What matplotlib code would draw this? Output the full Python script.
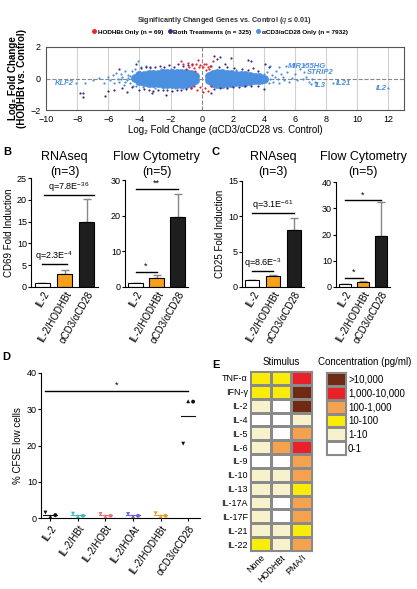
import matplotlib
matplotlib.use('Agg')
import matplotlib.pyplot as plt
from matplotlib.colors import ListedColormap
from matplotlib.lines import Line2D
import numpy as np

plt.rcParams['font.family'] = ['Liberation Sans', 'DejaVu Sans']
plt.rcParams['mathtext.fontset'] = 'custom'
plt.rcParams['mathtext.rm'] = 'Liberation Sans'
plt.rcParams['mathtext.it'] = 'Liberation Sans:italic'
plt.rcParams['mathtext.bf'] = 'Liberation Sans:bold'

# ---------------- data ----------------
# panel A: volcano-like scatter
core_x = [-4.3, -4.0, -4.0, -3.7, -3.7, -3.7, -3.4, -3.4, -3.4, -3.1, -3.1, -3.1,
          -2.8, -2.8, -2.8, -2.5, -2.5, -2.5, -2.2, -2.2, -2.2, -1.9, -1.9, -1.9,
          -1.6, -1.6, -1.6, -1.3, -1.3, -1.3, -1.0, -1.0, -1.0, -0.7, -0.7, -0.7,
          -0.45, -0.45,
          0.45, 0.45, 0.7, 0.7, 0.7, 1.0, 1.0, 1.0, 1.3, 1.3, 1.3, 1.6, 1.6, 1.6,
          1.9, 1.9, 1.9, 2.2, 2.2, 2.2, 2.5, 2.5, 2.5, 2.8, 2.8, 2.8, 3.1, 3.1, 3.1,
          3.4, 3.4, 3.7, 3.7, 4.0]
core_y = [0.05, -0.15, 0.2, 0.0, -0.25, 0.25, -0.3, 0.0, 0.3, -0.3, 0.0, 0.3,
          -0.3, 0.0, 0.3, -0.32, 0.0, 0.32, -0.35, 0.0, 0.33, -0.35, 0.0, 0.35,
          -0.35, 0.0, 0.35, -0.35, 0.0, 0.35, -0.32, 0.0, 0.32, -0.28, 0.0, 0.28,
          -0.1, 0.15,
          -0.1, 0.15, -0.28, 0.0, 0.28, -0.32, 0.0, 0.32, -0.32, 0.0, 0.32, -0.3, 0.0, 0.3,
          -0.28, 0.0, 0.28, -0.25, 0.0, 0.25, -0.22, 0.0, 0.22, -0.2, 0.02, 0.2, -0.15, 0.02, 0.18,
          -0.12, 0.1, -0.08, 0.08, 0.0]
blue_x = [-8.05, -7.0, -6.6, -6.3, -6.0, -5.9, -5.7, -5.6, -5.5, -5.4, -5.3, -5.2, -5.1,
          -5.0, -4.9, -4.8, -4.7, -4.6, -4.5, -4.4, -4.3, -4.2, -4.1, -3.9, -3.8, -3.6,
          -4.1, -3.3, -3.0, -7.5, -4.7, -4.9, -5.2, -4.6, -2.6, -1.7, -2.0, -1.2,
          4.2, 4.3, 4.5, 4.6, 4.8, 4.9, 5.0, 5.1, 5.2, 5.3, 5.5, 5.6, 5.8, 6.0, 6.1,
          6.3, 6.5, 6.7, 6.9, 7.1, 7.3, 5.4, 5.0, 4.4, 6.6, 6.6, 7.05, 8.45, 12.0,
          4.4, 4.7, 4.2, 4.0, 3.9, 2.2, 2.7, 1.4]
blue_y = [-0.3, -0.1, 0.05, -0.3, 0.1, -0.1, 0.2, -0.3, 0.35, 0.0, -0.2, 0.3, 0.1,
          -0.4, 0.45, -0.1, 0.25, -0.3, 0.5, -0.45, 0.6, -0.5, 0.4, 0.7, -0.55, 0.8,
          1.1, 0.65, -0.6, -0.3, 0.05, -0.2, -0.05, 0.15, 0.62, -0.62, 0.6, -0.6,
          0.4, -0.3, 0.2, -0.2, 0.5, 0.0, -0.3, 0.3, 0.1, -0.1, 0.4, -0.2, 0.05, 0.3, -0.1,
          0.6, -0.05, 0.1, -0.2, 0.0, -0.25, 0.8, 0.7, 0.8, 0.85, 0.4, -0.35, -0.3, -0.62,
          0.0, 0.1, -0.1, 0.3, -0.3, 0.55, -0.5, -0.55]
both_x = [-4.2, -3.9, -3.6, -3.3, -3.0, -2.7, -2.4, -2.1, -1.8, -1.5, -1.2, -0.9, -0.6,
          -4.0, -3.7, -3.4, -3.1, -2.8, -2.5, -2.2, -1.9, -1.6, -1.3, -1.0, -0.7, -3.2, -2.3,
          -7.6, -7.6, -7.8, -6.2, -6.0, -5.6, -5.1, -4.8, -4.5, -5.3,
          0.8, 1.0, 1.2, 1.5, 1.9, 0.6, 1.1, 1.6, 2.1, 2.6, 3.0, 3.3, 3.6, 3.0, 3.2, 4.1, 4.3,
          0.8, 1.2, 1.6, 2.0, 2.4, 2.8, 3.2, 3.6, 0.6, 4.0]
both_y = [0.9, 0.65, 0.7, 0.7, 0.75, 0.8, 0.7, 0.85, 0.75, 0.9, 0.8, 0.85, 0.9,
          -0.75, -0.65, -0.7, -0.8, -0.7, -0.75, -0.7, -0.8, -0.75, -0.7, -0.65, -0.6, -0.95, -1.05,
          -0.9, -1.2, -0.95, -1.1, -0.8, -0.7, -0.6, -0.85, -0.55, 0.6,
          1.45, 1.25, 1.35, 0.9, 1.3, 0.8, 0.75, 0.7, 0.65, 0.6, 0.55, 0.65, 0.5, 1.2, 1.1, 0.9, 0.75,
          -0.65, -0.6, -0.6, -0.55, -0.55, -0.5, -0.5, -0.45, -0.9, -0.65]
red_x = [-0.8, -0.6, -0.5, -0.35, -0.2, -0.1, 0.1, 0.25, 0.4, 0.55, -0.9, -1.2, 0.3,
         -0.25, 0.7, -0.4, 0.15, -1.0, 0.5, -1.3,
         -0.5, -0.3, -0.1, 0.2, 0.4, -0.7, 0.6, 0.1]
red_y = [0.75, 0.85, 0.65, 0.9, 0.7, 0.85, 0.75, 0.9, 0.7, 0.8, 1.0, 0.9, 0.55,
         1.2, 1.1, 0.45, 0.95, 0.6, 0.6, 1.1,
         -0.45, -0.7, -0.55, -0.6, -0.8, -0.6, -0.45, -0.85]
gene_labels = ['KLF2', 'MIR155HG', 'STRIP2', 'IL3', 'IL21', 'IL2']
gene_label_x = [-9.45, 5.55, 6.75, 7.3, 8.65, 11.2]
gene_label_y = [-0.32, 0.79, 0.36, -0.43, -0.32, -0.66]

# panels B and C: bars (mean, upper error)
bar_labels = ['IL-2', 'IL-2/HODHBt', 'αCD3/αCD28']
cd69_rna = [1.0, 3.0, 14.8]
cd69_rna_err = [0.0, 1.0, 5.4]
cd69_flow = [1.0, 2.5, 19.5]
cd69_flow_err = [0.0, 0.9, 6.5]
cd25_rna = [1.0, 1.5, 8.0]
cd25_rna_err = [0.0, 0.25, 1.8]
cd25_flow = [1.0, 1.8, 19.5]
cd25_flow_err = [0.0, 0.3, 12.8]

# panel D: % CFSE low cells per donor
d_groups = ['IL-2', 'IL-2/HBt', 'IL-2/HOBt', 'IL-2/HOAt', 'IL-2/HODHBt', 'αCD3/αCD28']
donor1 = [0.4, 0.5, 0.5, 0.5, 0.5, 32.2]   # triangle up
donor2 = [0.8, 0.6, 0.6, 0.6, 0.6, 32.1]   # circle
donor3 = [1.5, 1.2, 1.1, 1.1, 1.3, 20.5]   # triangle down

# panel E: cytokine concentration class (0: 0-1 ... 5: >10,000 pg/ml)
cytokines = ['TNF-α', 'IFN-γ', 'IL-2', 'IL-4', 'IL-5', 'IL-6', 'IL-9', 'IL-10',
             'IL-13', 'IL-17A', 'IL-17F', 'IL-21', 'IL-22']
stimuli = ['None', 'HODHBt', 'PMA/I']
conc_none = [2, 2, 1, 0, 1, 1, 0, 1, 1, 1, 1, 1, 2]
conc_hodhbt = [2, 2, 0, 0, 0, 3, 0, 1, 1, 0, 0, 1, 1]
conc_pma = [4, 5, 5, 1, 3, 4, 3, 3, 2, 3, 3, 2, 3]
conc_classes = ['0-1', '1-10', '10-100', '100-1,000', '1,000-10,000', '>10,000']

# ---------------- figure ----------------
W, H = 417, 589
fig = plt.figure(figsize=(W / 100, H / 100), dpi=100)
fig.patch.set_facecolor('white')


def add_ax(l, t, r, b):
    return fig.add_axes([l / W, 1 - b / H, (r - l) / W, (b - t) / H])


BLUE = '#4a8fe0'
PURPLE = '#3b2c80'
RED = '#e8232d'

# ---- panel A ----
ax = add_ax(46, 47, 404, 110)
ax.set_xlim(-10, 13)
ax.set_ylim(-2, 2)
for gx in [-8, -6, -4, -2, 2, 4, 6, 8, 10, 12]:
    ax.axvline(gx, color='#d0d0d0', lw=0.8, zorder=0)
ax.axvline(0, color='#888888', ls='--', lw=0.8, zorder=0)
ax.axhline(0, color='#888888', ls='--', lw=0.8, zorder=0)
ax.scatter(core_x, core_y, s=40, color=BLUE, lw=0, zorder=2)
ax.scatter(blue_x, blue_y, s=2.5, color=BLUE, lw=0, zorder=2)
ax.scatter(both_x, both_y, s=2.5, color=PURPLE, lw=0, zorder=3)
ax.scatter(red_x, red_y, s=2.5, color=RED, lw=0, zorder=3)
for lab, lx, ly in zip(gene_labels, gene_label_x, gene_label_y):
    ax.text(lx, ly, lab, color=BLUE, fontsize=5.5, fontstyle='italic',
            fontweight='bold', va='center', ha='left')
ax.set_xticks(np.arange(-10, 13, 2))
ax.set_yticks([-2, 0, 2])
ax.tick_params(axis='x', labelsize=6.5, length=0, pad=3.5)
ax.tick_params(axis='y', labelsize=6.5, length=0, pad=4)
for s in ax.spines.values():
    s.set_color('#555555')
    s.set_linewidth(0.8)
ax.set_xlabel('Log₂ Fold Change (αCD3/αCD28 vs. Control)', fontsize=7, labelpad=1)
ax.set_ylabel('Log₂ Fold Change\n(HODHBt vs. Control)', fontsize=7,
              fontweight='bold', labelpad=2, linespacing=0.95)
fig.text(224 / W, 1 - 21 / H, r'Significantly Changed Genes vs. Control ($\mathit{q}$ ≤ 0.01)',
         fontsize=5.2, fontweight='bold', ha='center', va='center', color='#333333')
handles = [Line2D([], [], ls='', marker='o', ms=2.5, color=c) for c in (RED, PURPLE, BLUE)]
fig.legend(handles, ['HODHBt Only (n = 69)', 'Both Treatments (n = 325)',
                     'αCD3/αCD28 Only (n = 7932)'],
           loc='center', bbox_to_anchor=(220 / W, 1 - 32 / H), ncol=3, frameon=False,
           prop={'size': 4.6, 'weight': 'bold'}, handletextpad=0.2, columnspacing=0.8,
           handlelength=0.6, borderpad=0)


# ---- panels B and C ----
def bar_panel(box, means, errs, ymax, step, sigs, title, ylabel=None):
    a = add_ax(*box)
    x = np.arange(len(means))
    a.bar(x, means, width=0.68, color=['white', '#f7a11a', '#1e1e1e'],
          edgecolor='black', linewidth=0.8, zorder=2)
    a.errorbar(x, means, yerr=[np.zeros(len(errs)), errs], fmt='none',
               ecolor='#888888', elinewidth=1.0, capsize=3, capthick=1.0, zorder=1)
    a.set_xlim(-0.5, 2.5)
    a.set_ylim(0, ymax)
    a.set_yticks(np.arange(0, ymax + 0.1, step))
    a.set_xticks(x)
    a.set_xticklabels(bar_labels, rotation=60, ha='right', rotation_mode='anchor')
    a.tick_params(axis='y', labelsize=6.5, length=2, width=0.8, pad=1)
    a.tick_params(axis='x', labelsize=7, length=0, pad=2)
    for s in ('top', 'right'):
        a.spines[s].set_visible(False)
    for s in ('left', 'bottom'):
        a.spines[s].set_linewidth(0.8)
    for x0, x1, y, txt in sigs:
        a.plot([x0, x1], [y, y], color='black', lw=1.0, clip_on=False)
        a.text((x0 + x1) / 2, y + ymax * 0.01, txt, ha='center', va='bottom', fontsize=6.5)
    cx = (box[0] + box[2]) / 2
    fig.text(cx / W, 1 - 157 / H, title[0], fontsize=9, ha='center', va='center')
    fig.text(cx / W, 1 - 172 / H, title[1], fontsize=9, ha='center', va='center')
    if ylabel:
        a.set_ylabel(ylabel, fontsize=7, labelpad=2)
    return a


bar_panel((31, 178, 98, 287), cd69_rna, cd69_rna_err, 25, 5,
          [(0.0, 1.1, 5.3, r'q=2.3E$^{-4}$'), (0.1, 2.3, 21.0, r'q=7.8E$^{-36}$')],
          ('RNAseq', '(n=3)'), 'CD69 Fold Induction')
bar_panel((125, 180, 188, 287), cd69_flow, cd69_flow_err, 30, 10,
          [(0.0, 1.0, 4.2, '*'), (0.0, 2.0, 27.5, '**')],
          ('Flow Cytometry', '(n=5)'))
bar_panel((242, 181, 304, 287), cd25_rna, cd25_rna_err, 15, 5,
          [(0.0, 1.0, 2.2, r'q=8.6E$^{-3}$'), (0.0, 2.0, 10.5, r'q=3.1E$^{-61}$')],
          ('RNAseq', '(n=3)'), 'CD25 Fold Induction')
bar_panel((336, 182, 390, 287), cd25_flow, cd25_flow_err, 40, 10,
          [(0.0, 1.0, 3.5, '*'), (0.0, 2.0, 33.0, '*')],
          ('Flow Cytometry', '(n=5)'))

fig.text(3 / W, 1 - 152 / H, 'B', fontsize=8, fontweight='bold', ha='left', va='center')
fig.text(212 / W, 1 - 152 / H, 'C', fontsize=8, fontweight='bold', ha='left', va='center')

# ---- panel D ----
ax = add_ax(41, 373, 200, 518)
gcolors = ['#111111', '#3fb8c8', '#e07878', '#6a64d8', '#e89a2a', '#111111']
xs = np.arange(len(d_groups))
for donor, mk, off in ((donor3, 'v', -0.18), (donor1, '^', 0.0), (donor2, 'o', 0.18)):
    ax.scatter(xs + off, donor, marker=mk, s=8, c=gcolors, lw=0, zorder=3, clip_on=False)
means = np.mean([donor1, donor2, donor3], axis=0)
for xi, m, c in zip(xs, means, gcolors):
    ax.plot([xi - 0.25, xi + 0.25], [m, m], color=c, lw=0.8, zorder=2)
ax.plot([-0.2, 5.0], [35, 35], color='black', lw=1.0)
ax.text(2.4, 35.3, '*', ha='center', va='bottom', fontsize=6.5)
ax.set_xlim(-0.34, 5.43)
ax.set_ylim(0, 40)
ax.set_yticks([0, 10, 20, 30, 40])
ax.set_xticks(xs)
ax.set_xticklabels(d_groups, rotation=55, ha='right', rotation_mode='anchor')
ax.tick_params(axis='y', labelsize=6.5, length=2, width=0.8, pad=1)
ax.tick_params(axis='x', labelsize=7, length=2, width=0.8, pad=2)
for s in ('top', 'right'):
    ax.spines[s].set_visible(False)
for s in ('left', 'bottom'):
    ax.spines[s].set_linewidth(0.8)
ax.set_ylabel('% CFSE low cells', fontsize=7, labelpad=3)
fig.text(2 / W, 1 - 357 / H, 'D', fontsize=8, fontweight='bold', ha='left', va='center')

# ---- panel E ----
level_colors = ['#ffffff', '#f8f2cc', '#f8ec08', '#f4a24e', '#e82228', '#6e2a12']
cmap = ListedColormap(level_colors)
grid = np.array([conc_none, conc_hodhbt, conc_pma]).T
ax = add_ax(250, 371, 312, 551)
ax.pcolormesh(grid, cmap=cmap, vmin=-0.5, vmax=5.5, edgecolors='#8a8a8a', linewidth=0.8)
ax.set_xlim(0, 3)
ax.set_ylim(len(cytokines), 0)
ax.set_yticks(np.arange(len(cytokines)) + 0.5)
ax.set_yticklabels(cytokines)
ax.set_xticks(np.arange(3) + 0.5)
ax.set_xticklabels(stimuli, rotation=45, ha='right', rotation_mode='anchor')
ax.tick_params(labelsize=6.5, length=0, pad=1.5)
for s in ax.spines.values():
    s.set_color('#8a8a8a')
    s.set_linewidth(0.8)
fig.text(281 / W, 1 - 362 / H, 'Stimulus', fontsize=7, ha='center', va='center')
fig.text(212 / W, 1 - 365 / H, 'E', fontsize=8, fontweight='bold', ha='left', va='center')

lax = add_ax(326, 372, 346, 455)
levels = np.arange(len(conc_classes))[::-1].reshape(-1, 1)
lax.pcolormesh(levels, cmap=cmap, vmin=-0.5, vmax=5.5, edgecolors='#8a8a8a', linewidth=0.8)
lax.set_xlim(0, 1)
lax.set_ylim(len(conc_classes), 0)
lax.set_xticks([])
lax.yaxis.tick_right()
lax.set_yticks(np.arange(len(conc_classes)) + 0.5)
lax.set_yticklabels(conc_classes[::-1])
lax.tick_params(labelsize=7, length=0, pad=1.5)
for s in lax.spines.values():
    s.set_color('#8a8a8a')
    s.set_linewidth(0.8)
fig.text(318 / W, 1 - 362 / H, 'Concentration (pg/ml)', fontsize=7, ha='left', va='center')

fig.savefig('out.png', dpi=100, facecolor='white')
